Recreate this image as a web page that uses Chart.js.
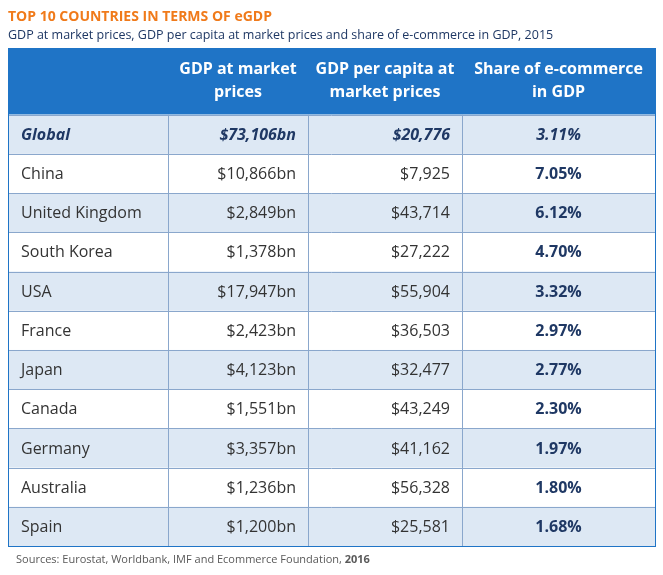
<!DOCTYPE html>
<html><head><meta charset="utf-8">
<script src="https://cdn.jsdelivr.net/npm/chart.js@4"></script>
<style>html,body{margin:0;background:#fff}#wrap{width:663px;height:575px}</style>
</head><body><div id="wrap"><canvas id="c"></canvas></div>
<script>
const title = "TOP 10 COUNTRIES IN TERMS OF eGDP";
const subtitle = "GDP at market prices, GDP per capita at market prices and share of e-commerce in GDP, 2015";
const source = ["Sources: Eurostat, Worldbank, IMF and Ecommerce Foundation, ", "2016"];
const headers = [[""], ["GDP at market", "prices"], ["GDP per capita at", "market prices"], ["Share of e-commerce", "in GDP"]];
const countries = ["Global", "China", "United Kingdom", "South Korea", "USA", "France", "Japan", "Canada", "Germany", "Australia", "Spain"];
const gdp = ["$73,106bn", "$10,866bn", "$2,849bn", "$1,378bn", "$17,947bn", "$2,423bn", "$4,123bn", "$1,551bn", "$3,357bn", "$1,236bn", "$1,200bn"];
const gdpPerCapita = ["$20,776", "$7,925", "$43,714", "$27,222", "$55,904", "$36,503", "$32,477", "$43,249", "$41,162", "$56,328", "$25,581"];
const share = ["3.11%", "7.05%", "6.12%", "4.70%", "3.32%", "2.97%", "2.77%", "2.30%", "1.97%", "1.80%", "1.68%"];
// column edges and row edges in scale units
const colEdges = [0, 160, 300, 454, 647];
const headerHeight = 1.7;

const FONT = '"Open Sans", "Liberation Sans", sans-serif';
const BLUE = "#1f74c6", LIGHT = "#dde8f4", GRID = "#8aa7cc";

const tablePlugin = {
  id: "table",
  afterDraw(chart) {
    const ctx = chart.ctx, xs = chart.scales.x, ys = chart.scales.y;
    const X = v => xs.getPixelForValue(v), Y = v => ys.getPixelForValue(v);
    ctx.save();
    ctx.textBaseline = "middle";
    ctx.fillStyle = "#f07a1a"; ctx.font = "bold 14px " + FONT; ctx.textAlign = "left";
    ctx.fillText(title, 8, 17);
    ctx.fillStyle = "#1f3864"; ctx.font = "12.5px " + FONT;
    ctx.fillText(subtitle, 8, 35);

    // header
    ctx.fillStyle = BLUE;
    ctx.fillRect(X(0), Y(0), X(647) - X(0), Y(headerHeight) - Y(0));
    ctx.fillStyle = "#fff"; ctx.font = "bold 16px " + FONT; ctx.textAlign = "center";
    headers.forEach((h, i) => {
      const cx = (X(colEdges[i]) + X(colEdges[i + 1])) / 2, cy = (Y(0) + Y(headerHeight)) / 2;
      h.forEach((t, k) => ctx.fillText(t, cx, cy + (k - (h.length - 1) / 2) * 23));
    });

    countries.forEach((c, r) => {
      const y0 = Y(headerHeight + r), y1 = Y(headerHeight + r + 1), cy = (y0 + y1) / 2 + 1;
      if (r === 0 || r % 2 === 0) { ctx.fillStyle = LIGHT; ctx.fillRect(X(0), y0, X(647) - X(0), y1 - y0); }
      const g = r === 0;
      ctx.fillStyle = g ? "#1f3864" : "#333";
      ctx.font = (g ? "italic bold " : "") + "16px " + FONT;
      ctx.textAlign = "left"; ctx.fillText(c, X(0) + 13, cy);
      ctx.textAlign = "right";
      ctx.fillText(gdp[r], X(colEdges[2]) - 12, cy);
      ctx.fillText(gdpPerCapita[r], X(colEdges[3]) - 12, cy);
      ctx.font = (g ? "italic bold " : "bold ") + "16px " + FONT;
      ctx.fillStyle = g ? "#1f3864" : "#1f3864";
      ctx.textAlign = "center";
      ctx.fillText(share[r], (X(colEdges[3]) + X(colEdges[4])) / 2, cy);
    });

    // grid
    ctx.strokeStyle = GRID; ctx.lineWidth = 1;
    const top = Y(headerHeight), bot = Y(headerHeight + countries.length);
    for (let r = 0; r <= countries.length; r++) {
      const y = Math.round(Y(headerHeight + r)) + 0.5;
      ctx.beginPath(); ctx.moveTo(X(0), y); ctx.lineTo(X(647), y); ctx.stroke();
    }
    colEdges.forEach(e => {
      const x = Math.round(X(e)) + 0.5;
      ctx.beginPath(); ctx.moveTo(x, top); ctx.lineTo(x, bot); ctx.stroke();
    });
    ctx.strokeStyle = BLUE;
    ctx.strokeRect(Math.round(X(0)) + 0.5, Math.round(Y(0)) + 0.5, X(647) - X(0), bot - Y(0));

    ctx.fillStyle = "#595959"; ctx.font = "11px " + FONT; ctx.textAlign = "left";
    ctx.fillText(source[0], 16, 560);
    const w = ctx.measureText(source[0]).width;
    ctx.font = "bold 11px " + FONT; ctx.fillText(source[1], 16 + w, 560);
    ctx.restore();
  }
};

new Chart(document.getElementById("c"), {
  type: "scatter",
  data: { datasets: [{ data: [] }] },
  options: {
    responsive: true, maintainAspectRatio: false, animation: false,
    layout: { padding: { left: 8, right: 8, top: 48, bottom: 29 } },
    plugins: { legend: { display: false }, tooltip: { enabled: false } },
    scales: {
      x: { type: "linear", min: colEdges[0], max: colEdges[colEdges.length - 1], display: false },
      y: { type: "linear", min: 0, max: headerHeight + countries.length, reverse: true, display: false }
    }
  },
  plugins: [tablePlugin]
});
</script></body></html>
